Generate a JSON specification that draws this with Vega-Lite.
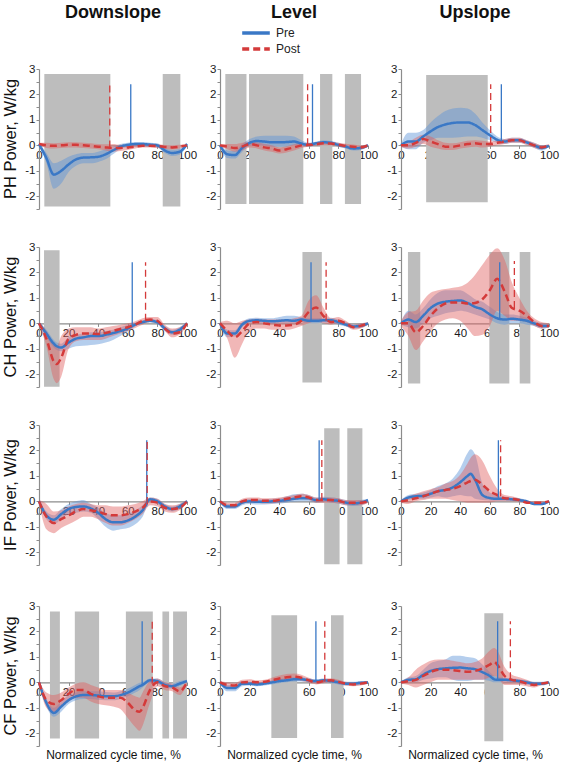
{
"$schema":"https://vega.github.io/schema/vega-lite/v6.json",
"padding":{"left":2,"top":4,"right":2,"bottom":1},
"data":{"values":[
{"r":"PH","c":"D","x":0,"pm":0.05,"pl":0,"ph":0.1,"qm":0.05,"ql":0,"qh":0.1},
{"r":"PH","c":"D","x":5,"pm":-0.5,"pl":-0.7,"ph":-0.3,"qm":0,"ql":-0.1,"qh":0.1},
{"r":"PH","c":"D","x":10,"pm":-1.15,"pl":-1.7,"ph":-0.7,"qm":-0.02,"ql":-0.12,"qh":0.08},
{"r":"PH","c":"D","x":15,"pm":-1.0,"pl":-1.5,"ph":-0.6,"qm":0,"ql":-0.1,"qh":0.1},
{"r":"PH","c":"D","x":20,"pm":-0.75,"pl":-1.05,"ph":-0.45,"qm":0.02,"ql":-0.08,"qh":0.12},
{"r":"PH","c":"D","x":25,"pm":-0.55,"pl":-0.8,"ph":-0.35,"qm":0.02,"ql":-0.08,"qh":0.12},
{"r":"PH","c":"D","x":30,"pm":-0.48,"pl":-0.7,"ph":-0.3,"qm":0,"ql":-0.1,"qh":0.1},
{"r":"PH","c":"D","x":35,"pm":-0.47,"pl":-0.7,"ph":-0.3,"qm":-0.02,"ql":-0.12,"qh":0.08},
{"r":"PH","c":"D","x":40,"pm":-0.45,"pl":-0.65,"ph":-0.25,"qm":-0.05,"ql":-0.15,"qh":0.05},
{"r":"PH","c":"D","x":45,"pm":-0.35,"pl":-0.55,"ph":-0.15,"qm":-0.08,"ql":-0.2,"qh":0.04},
{"r":"PH","c":"D","x":50,"pm":-0.2,"pl":-0.35,"ph":-0.05,"qm":-0.1,"ql":-0.25,"qh":0.05},
{"r":"PH","c":"D","x":55,"pm":-0.05,"pl":-0.15,"ph":0.05,"qm":-0.1,"ql":-0.22,"qh":0.02},
{"r":"PH","c":"D","x":60,"pm":0.02,"pl":-0.06,"ph":0.1,"qm":-0.08,"ql":-0.18,"qh":0.02},
{"r":"PH","c":"D","x":65,"pm":0.05,"pl":-0.03,"ph":0.13,"qm":-0.05,"ql":-0.12,"qh":0.02},
{"r":"PH","c":"D","x":70,"pm":0.05,"pl":-0.03,"ph":0.13,"qm":-0.02,"ql":-0.08,"qh":0.04},
{"r":"PH","c":"D","x":75,"pm":0.03,"pl":-0.05,"ph":0.1,"qm":-0.02,"ql":-0.08,"qh":0.04},
{"r":"PH","c":"D","x":80,"pm":0,"pl":-0.08,"ph":0.08,"qm":-0.03,"ql":-0.1,"qh":0.04},
{"r":"PH","c":"D","x":85,"pm":-0.2,"pl":-0.3,"ph":-0.1,"qm":-0.06,"ql":-0.13,"qh":0.01},
{"r":"PH","c":"D","x":90,"pm":-0.3,"pl":-0.42,"ph":-0.18,"qm":-0.08,"ql":-0.16,"qh":0},
{"r":"PH","c":"D","x":95,"pm":-0.25,"pl":-0.37,"ph":-0.13,"qm":-0.05,"ql":-0.12,"qh":0.02},
{"r":"PH","c":"D","x":100,"pm":0.05,"pl":0,"ph":0.1,"qm":0,"ql":-0.05,"qh":0.05},
{"r":"PH","c":"L","x":0,"pm":0,"pl":-0.05,"ph":0.05,"qm":0,"ql":-0.05,"qh":0.05},
{"r":"PH","c":"L","x":5,"pm":-0.35,"pl":-0.5,"ph":-0.2,"qm":-0.05,"ql":-0.15,"qh":0.05},
{"r":"PH","c":"L","x":10,"pm":-0.38,"pl":-0.52,"ph":-0.22,"qm":-0.1,"ql":-0.25,"qh":0.05},
{"r":"PH","c":"L","x":15,"pm":-0.1,"pl":-0.25,"ph":0.05,"qm":-0.05,"ql":-0.2,"qh":0.1},
{"r":"PH","c":"L","x":20,"pm":0.1,"pl":-0.02,"ph":0.25,"qm":0.05,"ql":-0.08,"qh":0.15},
{"r":"PH","c":"L","x":25,"pm":0.17,"pl":0,"ph":0.35,"qm":0,"ql":-0.12,"qh":0.12},
{"r":"PH","c":"L","x":30,"pm":0.15,"pl":-0.02,"ph":0.38,"qm":-0.08,"ql":-0.2,"qh":0.05},
{"r":"PH","c":"L","x":35,"pm":0.12,"pl":-0.05,"ph":0.38,"qm":-0.12,"ql":-0.25,"qh":0},
{"r":"PH","c":"L","x":40,"pm":0.12,"pl":-0.05,"ph":0.38,"qm":-0.2,"ql":-0.32,"qh":-0.08},
{"r":"PH","c":"L","x":45,"pm":0.13,"pl":-0.05,"ph":0.38,"qm":-0.15,"ql":-0.28,"qh":-0.03},
{"r":"PH","c":"L","x":50,"pm":0.15,"pl":0,"ph":0.35,"qm":-0.08,"ql":-0.2,"qh":0.04},
{"r":"PH","c":"L","x":55,"pm":0.07,"pl":-0.03,"ph":0.2,"qm":0,"ql":-0.1,"qh":0.1},
{"r":"PH","c":"L","x":60,"pm":0.02,"pl":-0.05,"ph":0.1,"qm":0.02,"ql":-0.05,"qh":0.09},
{"r":"PH","c":"L","x":65,"pm":0.08,"pl":0,"ph":0.15,"qm":0.05,"ql":-0.02,"qh":0.12},
{"r":"PH","c":"L","x":70,"pm":0.12,"pl":0.05,"ph":0.2,"qm":0.08,"ql":0,"qh":0.15},
{"r":"PH","c":"L","x":75,"pm":0.1,"pl":0.03,"ph":0.17,"qm":0.07,"ql":0,"qh":0.14},
{"r":"PH","c":"L","x":80,"pm":0.02,"pl":-0.05,"ph":0.1,"qm":0.03,"ql":-0.05,"qh":0.1},
{"r":"PH","c":"L","x":85,"pm":-0.05,"pl":-0.12,"ph":0.02,"qm":-0.02,"ql":-0.1,"qh":0.06},
{"r":"PH","c":"L","x":90,"pm":-0.12,"pl":-0.2,"ph":-0.05,"qm":-0.05,"ql":-0.13,"qh":0.03},
{"r":"PH","c":"L","x":95,"pm":-0.1,"pl":-0.18,"ph":-0.03,"qm":-0.08,"ql":-0.15,"qh":0},
{"r":"PH","c":"L","x":100,"pm":0,"pl":-0.05,"ph":0.05,"qm":0,"ql":-0.05,"qh":0.05},
{"r":"PH","c":"U","x":0,"pm":0,"pl":-0.05,"ph":0.05,"qm":0,"ql":-0.05,"qh":0.05},
{"r":"PH","c":"U","x":5,"pm":0.15,"pl":-0.15,"ph":0.5,"qm":0,"ql":-0.12,"qh":0.12},
{"r":"PH","c":"U","x":10,"pm":0.15,"pl":-0.15,"ph":0.5,"qm":0.1,"ql":-0.05,"qh":0.3},
{"r":"PH","c":"U","x":15,"pm":0.35,"pl":0.1,"ph":0.6,"qm":0.25,"ql":0.05,"qh":0.42},
{"r":"PH","c":"U","x":20,"pm":0.55,"pl":0.2,"ph":0.9,"qm":0.15,"ql":-0.05,"qh":0.35},
{"r":"PH","c":"U","x":25,"pm":0.72,"pl":0.3,"ph":1.15,"qm":0.05,"ql":-0.12,"qh":0.2},
{"r":"PH","c":"U","x":30,"pm":0.82,"pl":0.3,"ph":1.35,"qm":-0.05,"ql":-0.18,"qh":0.1},
{"r":"PH","c":"U","x":35,"pm":0.88,"pl":0.3,"ph":1.45,"qm":-0.05,"ql":-0.18,"qh":0.08},
{"r":"PH","c":"U","x":40,"pm":0.9,"pl":0.32,"ph":1.48,"qm":0,"ql":-0.12,"qh":0.12},
{"r":"PH","c":"U","x":45,"pm":0.9,"pl":0.35,"ph":1.45,"qm":0.05,"ql":-0.08,"qh":0.18},
{"r":"PH","c":"U","x":50,"pm":0.8,"pl":0.35,"ph":1.25,"qm":0.08,"ql":-0.05,"qh":0.2},
{"r":"PH","c":"U","x":55,"pm":0.6,"pl":0.3,"ph":0.9,"qm":0.05,"ql":-0.08,"qh":0.18},
{"r":"PH","c":"U","x":60,"pm":0.4,"pl":0.2,"ph":0.6,"qm":0.05,"ql":-0.05,"qh":0.15},
{"r":"PH","c":"U","x":65,"pm":0.22,"pl":0.1,"ph":0.35,"qm":0.1,"ql":0,"qh":0.2},
{"r":"PH","c":"U","x":70,"pm":0.15,"pl":0.05,"ph":0.25,"qm":0.15,"ql":0.05,"qh":0.25},
{"r":"PH","c":"U","x":75,"pm":0.2,"pl":0.1,"ph":0.3,"qm":0.2,"ql":0.1,"qh":0.3},
{"r":"PH","c":"U","x":80,"pm":0.2,"pl":0.1,"ph":0.3,"qm":0.2,"ql":0.1,"qh":0.3},
{"r":"PH","c":"U","x":85,"pm":0.12,"pl":0.03,"ph":0.2,"qm":0.1,"ql":0,"qh":0.2},
{"r":"PH","c":"U","x":90,"pm":0,"pl":-0.1,"ph":0.1,"qm":0,"ql":-0.1,"qh":0.1},
{"r":"PH","c":"U","x":95,"pm":-0.1,"pl":-0.2,"ph":0,"qm":-0.08,"ql":-0.15,"qh":0},
{"r":"PH","c":"U","x":100,"pm":-0.02,"pl":-0.05,"ph":0.02,"qm":0,"ql":-0.05,"qh":0.05},
{"r":"CH","c":"D","x":0,"pm":0,"pl":-0.05,"ph":0.05,"qm":0,"ql":-0.05,"qh":0.05},
{"r":"CH","c":"D","x":5,"pm":-0.4,"pl":-0.55,"ph":-0.25,"qm":-0.6,"ql":-0.9,"qh":-0.3},
{"r":"CH","c":"D","x":10,"pm":-0.8,"pl":-0.95,"ph":-0.65,"qm":-1.5,"ql":-2.2,"qh":-0.8},
{"r":"CH","c":"D","x":12,"pm":-0.9,"pl":-1.05,"ph":-0.75,"qm":-1.6,"ql":-2.35,"qh":-0.9},
{"r":"CH","c":"D","x":15,"pm":-0.95,"pl":-1.1,"ph":-0.8,"qm":-1.35,"ql":-2.1,"qh":-0.5},
{"r":"CH","c":"D","x":20,"pm":-0.75,"pl":-1.0,"ph":-0.55,"qm":-0.6,"ql":-1.0,"qh":-0.2},
{"r":"CH","c":"D","x":25,"pm":-0.6,"pl":-0.9,"ph":-0.45,"qm":-0.45,"ql":-0.7,"qh":-0.15},
{"r":"CH","c":"D","x":30,"pm":-0.55,"pl":-0.88,"ph":-0.4,"qm":-0.4,"ql":-0.65,"qh":-0.15},
{"r":"CH","c":"D","x":35,"pm":-0.5,"pl":-0.85,"ph":-0.35,"qm":-0.4,"ql":-0.65,"qh":-0.15},
{"r":"CH","c":"D","x":40,"pm":-0.5,"pl":-0.82,"ph":-0.35,"qm":-0.42,"ql":-0.65,"qh":-0.2},
{"r":"CH","c":"D","x":45,"pm":-0.45,"pl":-0.75,"ph":-0.3,"qm":-0.38,"ql":-0.6,"qh":-0.15},
{"r":"CH","c":"D","x":50,"pm":-0.38,"pl":-0.65,"ph":-0.25,"qm":-0.3,"ql":-0.5,"qh":-0.1},
{"r":"CH","c":"D","x":55,"pm":-0.3,"pl":-0.5,"ph":-0.15,"qm":-0.22,"ql":-0.4,"qh":-0.05},
{"r":"CH","c":"D","x":60,"pm":-0.2,"pl":-0.32,"ph":-0.05,"qm":-0.15,"ql":-0.3,"qh":0},
{"r":"CH","c":"D","x":65,"pm":-0.05,"pl":-0.12,"ph":0.02,"qm":-0.05,"ql":-0.18,"qh":0.08},
{"r":"CH","c":"D","x":70,"pm":0.05,"pl":0,"ph":0.12,"qm":0.1,"ql":-0.05,"qh":0.2},
{"r":"CH","c":"D","x":75,"pm":0.1,"pl":0.03,"ph":0.17,"qm":0.15,"ql":0.05,"qh":0.25},
{"r":"CH","c":"D","x":80,"pm":0.05,"pl":-0.03,"ph":0.12,"qm":0.1,"ql":0,"qh":0.25},
{"r":"CH","c":"D","x":85,"pm":-0.2,"pl":-0.3,"ph":-0.1,"qm":-0.2,"ql":-0.3,"qh":-0.05},
{"r":"CH","c":"D","x":90,"pm":-0.35,"pl":-0.45,"ph":-0.25,"qm":-0.4,"ql":-0.55,"qh":-0.2},
{"r":"CH","c":"D","x":95,"pm":-0.25,"pl":-0.35,"ph":-0.15,"qm":-0.35,"ql":-0.45,"qh":-0.15},
{"r":"CH","c":"D","x":100,"pm":0,"pl":-0.05,"ph":0.05,"qm":0,"ql":-0.05,"qh":0.05},
{"r":"CH","c":"L","x":0,"pm":0,"pl":-0.05,"ph":0.05,"qm":0,"ql":-0.05,"qh":0.05},
{"r":"CH","c":"L","x":5,"pm":-0.4,"pl":-0.55,"ph":-0.25,"qm":-0.3,"ql":-0.6,"qh":0.1},
{"r":"CH","c":"L","x":10,"pm":-0.4,"pl":-0.52,"ph":-0.27,"qm":-0.55,"ql":-1.35,"qh":0},
{"r":"CH","c":"L","x":15,"pm":-0.05,"pl":-0.15,"ph":0.05,"qm":-0.3,"ql":-0.8,"qh":0.1},
{"r":"CH","c":"L","x":20,"pm":0.1,"pl":0,"ph":0.2,"qm":0,"ql":-0.3,"qh":0.15},
{"r":"CH","c":"L","x":25,"pm":0.12,"pl":0.02,"ph":0.22,"qm":0.05,"ql":-0.2,"qh":0.18},
{"r":"CH","c":"L","x":30,"pm":0.1,"pl":0,"ph":0.2,"qm":0,"ql":-0.2,"qh":0.15},
{"r":"CH","c":"L","x":35,"pm":0.08,"pl":-0.02,"ph":0.2,"qm":-0.05,"ql":-0.25,"qh":0.15},
{"r":"CH","c":"L","x":40,"pm":0.1,"pl":0,"ph":0.25,"qm":-0.08,"ql":-0.25,"qh":0.15},
{"r":"CH","c":"L","x":45,"pm":0.12,"pl":0,"ph":0.3,"qm":-0.08,"ql":-0.25,"qh":0.15},
{"r":"CH","c":"L","x":50,"pm":0.1,"pl":0,"ph":0.3,"qm":-0.05,"ql":-0.2,"qh":0.2},
{"r":"CH","c":"L","x":55,"pm":0.15,"pl":0.05,"ph":0.25,"qm":0.1,"ql":-0.1,"qh":0.3},
{"r":"CH","c":"L","x":60,"pm":0.1,"pl":0,"ph":0.2,"qm":0.45,"ql":0,"qh":0.9},
{"r":"CH","c":"L","x":65,"pm":0.1,"pl":0,"ph":0.2,"qm":0.62,"ql":0.1,"qh":1.1},
{"r":"CH","c":"L","x":70,"pm":0.12,"pl":0.02,"ph":0.22,"qm":0.28,"ql":0,"qh":0.6},
{"r":"CH","c":"L","x":75,"pm":0.12,"pl":0.02,"ph":0.22,"qm":0.05,"ql":-0.05,"qh":0.2},
{"r":"CH","c":"L","x":80,"pm":0.05,"pl":-0.05,"ph":0.15,"qm":0.1,"ql":0,"qh":0.25},
{"r":"CH","c":"L","x":85,"pm":-0.05,"pl":-0.12,"ph":0.05,"qm":0,"ql":-0.1,"qh":0.1},
{"r":"CH","c":"L","x":90,"pm":-0.12,"pl":-0.2,"ph":-0.04,"qm":-0.15,"ql":-0.25,"qh":-0.05},
{"r":"CH","c":"L","x":95,"pm":-0.1,"pl":-0.18,"ph":-0.02,"qm":-0.1,"ql":-0.2,"qh":0},
{"r":"CH","c":"L","x":100,"pm":0,"pl":-0.05,"ph":0.05,"qm":0,"ql":-0.05,"qh":0.05},
{"r":"CH","c":"U","x":0,"pm":0,"pl":-0.05,"ph":0.05,"qm":0,"ql":-0.1,"qh":0.1},
{"r":"CH","c":"U","x":5,"pm":0.15,"pl":-0.15,"ph":0.5,"qm":0,"ql":-0.5,"qh":0.45},
{"r":"CH","c":"U","x":10,"pm":0.05,"pl":-0.2,"ph":0.35,"qm":-0.35,"ql":-1.05,"qh":0.5},
{"r":"CH","c":"U","x":15,"pm":0.3,"pl":0,"ph":0.6,"qm":-0.1,"ql":-0.7,"qh":0.9},
{"r":"CH","c":"U","x":20,"pm":0.6,"pl":0.2,"ph":0.95,"qm":0.3,"ql":-0.3,"qh":1.2},
{"r":"CH","c":"U","x":25,"pm":0.78,"pl":0.3,"ph":1.2,"qm":0.6,"ql":0,"qh":1.3},
{"r":"CH","c":"U","x":30,"pm":0.85,"pl":0.4,"ph":1.3,"qm":0.78,"ql":0.15,"qh":1.35},
{"r":"CH","c":"U","x":35,"pm":0.88,"pl":0.45,"ph":1.3,"qm":0.82,"ql":0.2,"qh":1.4},
{"r":"CH","c":"U","x":40,"pm":0.9,"pl":0.5,"ph":1.3,"qm":0.82,"ql":0.1,"qh":1.45},
{"r":"CH","c":"U","x":45,"pm":0.8,"pl":0.45,"ph":1.15,"qm":0.78,"ql":-0.2,"qh":1.6},
{"r":"CH","c":"U","x":50,"pm":0.65,"pl":0.35,"ph":0.95,"qm":0.8,"ql":-0.5,"qh":1.9},
{"r":"CH","c":"U","x":55,"pm":0.55,"pl":0.25,"ph":0.85,"qm":0.95,"ql":-0.45,"qh":2.3},
{"r":"CH","c":"U","x":60,"pm":0.35,"pl":0.15,"ph":0.65,"qm":1.3,"ql":-0.1,"qh":2.7},
{"r":"CH","c":"U","x":65,"pm":0.2,"pl":0,"ph":0.45,"qm":1.75,"ql":0.5,"qh":2.95},
{"r":"CH","c":"U","x":70,"pm":0.15,"pl":-0.05,"ph":0.35,"qm":1.25,"ql":0.3,"qh":2.5},
{"r":"CH","c":"U","x":75,"pm":0.18,"pl":0,"ph":0.35,"qm":0.6,"ql":0.1,"qh":1.6},
{"r":"CH","c":"U","x":80,"pm":0.15,"pl":0,"ph":0.3,"qm":0.5,"ql":0.1,"qh":1.0},
{"r":"CH","c":"U","x":85,"pm":0.1,"pl":-0.05,"ph":0.22,"qm":0.3,"ql":0.05,"qh":0.5},
{"r":"CH","c":"U","x":90,"pm":0,"pl":-0.1,"ph":0.1,"qm":0.05,"ql":-0.1,"qh":0.2},
{"r":"CH","c":"U","x":95,"pm":-0.1,"pl":-0.2,"ph":0,"qm":-0.1,"ql":-0.2,"qh":0.05},
{"r":"CH","c":"U","x":100,"pm":-0.1,"pl":-0.15,"ph":-0.05,"qm":-0.1,"ql":-0.15,"qh":0},
{"r":"IF","c":"D","x":0,"pm":0,"pl":-0.05,"ph":0.05,"qm":0,"ql":-0.05,"qh":0.05},
{"r":"IF","c":"D","x":5,"pm":-0.55,"pl":-0.7,"ph":-0.4,"qm":-0.6,"ql":-1.1,"qh":-0.1},
{"r":"IF","c":"D","x":10,"pm":-0.72,"pl":-0.9,"ph":-0.55,"qm":-0.85,"ql":-1.25,"qh":-0.4},
{"r":"IF","c":"D","x":15,"pm":-0.5,"pl":-0.7,"ph":-0.3,"qm":-0.7,"ql":-1.05,"qh":-0.35},
{"r":"IF","c":"D","x":20,"pm":-0.3,"pl":-0.5,"ph":-0.1,"qm":-0.55,"ql":-0.9,"qh":-0.2},
{"r":"IF","c":"D","x":25,"pm":-0.22,"pl":-0.45,"ph":0,"qm":-0.4,"ql":-0.75,"qh":-0.1},
{"r":"IF","c":"D","x":30,"pm":-0.2,"pl":-0.4,"ph":0.05,"qm":-0.3,"ql":-0.6,"qh":-0.05},
{"r":"IF","c":"D","x":35,"pm":-0.28,"pl":-0.45,"ph":-0.1,"qm":-0.35,"ql":-0.6,"qh":-0.1},
{"r":"IF","c":"D","x":40,"pm":-0.45,"pl":-0.7,"ph":-0.25,"qm":-0.4,"ql":-0.7,"qh":-0.15},
{"r":"IF","c":"D","x":45,"pm":-0.7,"pl":-1.0,"ph":-0.45,"qm":-0.5,"ql":-0.85,"qh":-0.15},
{"r":"IF","c":"D","x":50,"pm":-0.82,"pl":-1.15,"ph":-0.55,"qm":-0.55,"ql":-0.95,"qh":-0.2},
{"r":"IF","c":"D","x":55,"pm":-0.82,"pl":-1.1,"ph":-0.55,"qm":-0.55,"ql":-0.95,"qh":-0.2},
{"r":"IF","c":"D","x":60,"pm":-0.75,"pl":-1.05,"ph":-0.5,"qm":-0.5,"ql":-0.85,"qh":-0.15},
{"r":"IF","c":"D","x":65,"pm":-0.6,"pl":-0.9,"ph":-0.35,"qm":-0.4,"ql":-0.7,"qh":-0.1},
{"r":"IF","c":"D","x":70,"pm":-0.35,"pl":-0.6,"ph":-0.15,"qm":-0.25,"ql":-0.5,"qh":0},
{"r":"IF","c":"D","x":75,"pm":0.08,"pl":0,"ph":0.15,"qm":0,"ql":-0.15,"qh":0.15},
{"r":"IF","c":"D","x":80,"pm":0,"pl":-0.1,"ph":0.1,"qm":-0.05,"ql":-0.2,"qh":0.1},
{"r":"IF","c":"D","x":85,"pm":-0.2,"pl":-0.3,"ph":-0.1,"qm":-0.25,"ql":-0.4,"qh":-0.1},
{"r":"IF","c":"D","x":90,"pm":-0.3,"pl":-0.4,"ph":-0.2,"qm":-0.3,"ql":-0.45,"qh":-0.15},
{"r":"IF","c":"D","x":95,"pm":-0.2,"pl":-0.3,"ph":-0.1,"qm":-0.25,"ql":-0.35,"qh":-0.1},
{"r":"IF","c":"D","x":100,"pm":0,"pl":-0.05,"ph":0.05,"qm":0,"ql":-0.05,"qh":0.05},
{"r":"IF","c":"L","x":0,"pm":0,"pl":-0.05,"ph":0.05,"qm":0,"ql":-0.05,"qh":0.05},
{"r":"IF","c":"L","x":5,"pm":-0.2,"pl":-0.3,"ph":-0.1,"qm":-0.15,"ql":-0.25,"qh":-0.05},
{"r":"IF","c":"L","x":10,"pm":-0.2,"pl":-0.3,"ph":-0.1,"qm":-0.15,"ql":-0.25,"qh":-0.05},
{"r":"IF","c":"L","x":15,"pm":-0.05,"pl":-0.15,"ph":0.05,"qm":0,"ql":-0.1,"qh":0.1},
{"r":"IF","c":"L","x":20,"pm":0,"pl":-0.1,"ph":0.1,"qm":0.05,"ql":-0.05,"qh":0.15},
{"r":"IF","c":"L","x":25,"pm":-0.02,"pl":-0.12,"ph":0.08,"qm":0.05,"ql":-0.05,"qh":0.15},
{"r":"IF","c":"L","x":30,"pm":-0.02,"pl":-0.12,"ph":0.08,"qm":0.02,"ql":-0.08,"qh":0.12},
{"r":"IF","c":"L","x":35,"pm":0,"pl":-0.1,"ph":0.1,"qm":0.02,"ql":-0.08,"qh":0.12},
{"r":"IF","c":"L","x":40,"pm":0.02,"pl":-0.08,"ph":0.12,"qm":0.05,"ql":-0.05,"qh":0.15},
{"r":"IF","c":"L","x":45,"pm":0.05,"pl":-0.05,"ph":0.2,"qm":0.1,"ql":0,"qh":0.2},
{"r":"IF","c":"L","x":50,"pm":0.1,"pl":-0.02,"ph":0.28,"qm":0.15,"ql":0.05,"qh":0.25},
{"r":"IF","c":"L","x":55,"pm":0.12,"pl":0,"ph":0.3,"qm":0.2,"ql":0.1,"qh":0.3},
{"r":"IF","c":"L","x":60,"pm":0.12,"pl":0,"ph":0.25,"qm":0.15,"ql":0.05,"qh":0.25},
{"r":"IF","c":"L","x":65,"pm":0.05,"pl":-0.05,"ph":0.15,"qm":0.05,"ql":-0.05,"qh":0.15},
{"r":"IF","c":"L","x":70,"pm":0.08,"pl":-0.02,"ph":0.18,"qm":0.05,"ql":-0.05,"qh":0.15},
{"r":"IF","c":"L","x":75,"pm":0.05,"pl":-0.05,"ph":0.15,"qm":0.05,"ql":-0.05,"qh":0.15},
{"r":"IF","c":"L","x":80,"pm":0.02,"pl":-0.08,"ph":0.12,"qm":0.02,"ql":-0.08,"qh":0.12},
{"r":"IF","c":"L","x":85,"pm":-0.05,"pl":-0.15,"ph":0.05,"qm":-0.05,"ql":-0.15,"qh":0.05},
{"r":"IF","c":"L","x":90,"pm":-0.08,"pl":-0.18,"ph":0.02,"qm":-0.05,"ql":-0.15,"qh":0.05},
{"r":"IF","c":"L","x":95,"pm":-0.05,"pl":-0.15,"ph":0.05,"qm":-0.05,"ql":-0.15,"qh":0.05},
{"r":"IF","c":"L","x":100,"pm":0.05,"pl":-0.05,"ph":0.1,"qm":0,"ql":-0.05,"qh":0.05},
{"r":"IF","c":"U","x":0,"pm":0,"pl":-0.05,"ph":0.05,"qm":0,"ql":-0.05,"qh":0.05},
{"r":"IF","c":"U","x":5,"pm":0.15,"pl":0.05,"ph":0.25,"qm":0.05,"ql":-0.1,"qh":0.2},
{"r":"IF","c":"U","x":10,"pm":0.2,"pl":0.1,"ph":0.3,"qm":0.12,"ql":0,"qh":0.3},
{"r":"IF","c":"U","x":15,"pm":0.22,"pl":0.1,"ph":0.35,"qm":0.2,"ql":0.05,"qh":0.4},
{"r":"IF","c":"U","x":20,"pm":0.3,"pl":0.15,"ph":0.45,"qm":0.3,"ql":0.1,"qh":0.48},
{"r":"IF","c":"U","x":25,"pm":0.4,"pl":0.2,"ph":0.6,"qm":0.4,"ql":0.1,"qh":0.55},
{"r":"IF","c":"U","x":30,"pm":0.45,"pl":0.15,"ph":0.7,"qm":0.45,"ql":0.1,"qh":0.7},
{"r":"IF","c":"U","x":35,"pm":0.55,"pl":0.2,"ph":0.9,"qm":0.5,"ql":0.05,"qh":0.8},
{"r":"IF","c":"U","x":40,"pm":0.75,"pl":0.25,"ph":1.3,"qm":0.6,"ql":0,"qh":1.05},
{"r":"IF","c":"U","x":45,"pm":1.0,"pl":0.2,"ph":1.9,"qm":0.75,"ql":-0.05,"qh":1.5},
{"r":"IF","c":"U","x":47,"pm":1.08,"pl":0.2,"ph":2.05,"qm":0.8,"ql":-0.05,"qh":1.7},
{"r":"IF","c":"U","x":50,"pm":0.85,"pl":0.1,"ph":1.85,"qm":0.85,"ql":-0.05,"qh":1.85},
{"r":"IF","c":"U","x":55,"pm":0.25,"pl":0.05,"ph":0.7,"qm":0.65,"ql":-0.05,"qh":1.6},
{"r":"IF","c":"U","x":60,"pm":0.13,"pl":0.03,"ph":0.35,"qm":0.4,"ql":-0.05,"qh":1.0},
{"r":"IF","c":"U","x":65,"pm":0.1,"pl":0.02,"ph":0.22,"qm":0.25,"ql":0,"qh":0.5},
{"r":"IF","c":"U","x":70,"pm":0.1,"pl":0.02,"ph":0.18,"qm":0.12,"ql":0,"qh":0.25},
{"r":"IF","c":"U","x":75,"pm":0.08,"pl":0.02,"ph":0.15,"qm":0.1,"ql":0,"qh":0.2},
{"r":"IF","c":"U","x":80,"pm":0.05,"pl":0,"ph":0.12,"qm":0.05,"ql":-0.02,"qh":0.12},
{"r":"IF","c":"U","x":85,"pm":0,"pl":-0.05,"ph":0.05,"qm":-0.05,"ql":-0.1,"qh":0.02},
{"r":"IF","c":"U","x":90,"pm":-0.1,"pl":-0.15,"ph":-0.05,"qm":-0.05,"ql":-0.1,"qh":0},
{"r":"IF","c":"U","x":95,"pm":-0.1,"pl":-0.15,"ph":-0.05,"qm":-0.05,"ql":-0.1,"qh":0},
{"r":"IF","c":"U","x":100,"pm":0,"pl":-0.05,"ph":0.05,"qm":0,"ql":-0.05,"qh":0.05},
{"r":"CF","c":"D","x":0,"pm":0,"pl":-0.05,"ph":0.05,"qm":0,"ql":-0.05,"qh":0.05},
{"r":"CF","c":"D","x":5,"pm":-0.8,"pl":-0.95,"ph":-0.65,"qm":-0.7,"ql":-1.0,"qh":-0.4},
{"r":"CF","c":"D","x":10,"pm":-1.2,"pl":-1.35,"ph":-1.0,"qm":-0.85,"ql":-1.2,"qh":-0.5},
{"r":"CF","c":"D","x":15,"pm":-0.95,"pl":-1.15,"ph":-0.75,"qm":-0.7,"ql":-1.0,"qh":-0.4},
{"r":"CF","c":"D","x":20,"pm":-0.7,"pl":-0.85,"ph":-0.5,"qm":-0.45,"ql":-0.75,"qh":-0.2},
{"r":"CF","c":"D","x":25,"pm":-0.55,"pl":-0.7,"ph":-0.4,"qm":-0.3,"ql":-0.6,"qh":-0.05},
{"r":"CF","c":"D","x":30,"pm":-0.5,"pl":-0.65,"ph":-0.35,"qm":-0.3,"ql":-0.6,"qh":0},
{"r":"CF","c":"D","x":35,"pm":-0.5,"pl":-0.65,"ph":-0.35,"qm":-0.45,"ql":-0.75,"qh":-0.1},
{"r":"CF","c":"D","x":40,"pm":-0.52,"pl":-0.68,"ph":-0.35,"qm":-0.55,"ql":-0.85,"qh":-0.2},
{"r":"CF","c":"D","x":45,"pm":-0.55,"pl":-0.7,"ph":-0.38,"qm":-0.6,"ql":-0.9,"qh":-0.3},
{"r":"CF","c":"D","x":50,"pm":-0.55,"pl":-0.7,"ph":-0.4,"qm":-0.6,"ql":-0.95,"qh":-0.3},
{"r":"CF","c":"D","x":55,"pm":-0.5,"pl":-0.65,"ph":-0.35,"qm":-0.6,"ql":-1.05,"qh":-0.3},
{"r":"CF","c":"D","x":60,"pm":-0.4,"pl":-0.55,"ph":-0.25,"qm":-0.8,"ql":-1.4,"qh":-0.4},
{"r":"CF","c":"D","x":65,"pm":-0.25,"pl":-0.4,"ph":-0.1,"qm":-1.1,"ql":-1.75,"qh":-0.55},
{"r":"CF","c":"D","x":68,"pm":-0.15,"pl":-0.3,"ph":-0.02,"qm":-1.15,"ql":-1.9,"qh":-0.6},
{"r":"CF","c":"D","x":70,"pm":-0.1,"pl":-0.2,"ph":0,"qm":-1.0,"ql":-1.7,"qh":-0.4},
{"r":"CF","c":"D","x":75,"pm":0.08,"pl":-0.02,"ph":0.15,"qm":-0.3,"ql":-0.8,"qh":0.05},
{"r":"CF","c":"D","x":80,"pm":0.05,"pl":-0.05,"ph":0.15,"qm":0,"ql":-0.15,"qh":0.15},
{"r":"CF","c":"D","x":85,"pm":-0.1,"pl":-0.2,"ph":0,"qm":-0.15,"ql":-0.3,"qh":0},
{"r":"CF","c":"D","x":90,"pm":-0.15,"pl":-0.25,"ph":-0.05,"qm":-0.2,"ql":-0.35,"qh":-0.05},
{"r":"CF","c":"D","x":95,"pm":-0.05,"pl":-0.15,"ph":0.05,"qm":-0.35,"ql":-0.5,"qh":-0.2},
{"r":"CF","c":"D","x":100,"pm":0.05,"pl":0,"ph":0.1,"qm":0,"ql":-0.05,"qh":0.05},
{"r":"CF","c":"L","x":0,"pm":0,"pl":-0.05,"ph":0.05,"qm":0,"ql":-0.05,"qh":0.05},
{"r":"CF","c":"L","x":5,"pm":-0.22,"pl":-0.35,"ph":-0.1,"qm":-0.1,"ql":-0.2,"qh":0},
{"r":"CF","c":"L","x":10,"pm":-0.22,"pl":-0.35,"ph":-0.1,"qm":-0.12,"ql":-0.22,"qh":-0.02},
{"r":"CF","c":"L","x":15,"pm":-0.05,"pl":-0.15,"ph":0.05,"qm":0,"ql":-0.1,"qh":0.1},
{"r":"CF","c":"L","x":20,"pm":-0.05,"pl":-0.12,"ph":0.02,"qm":0.02,"ql":-0.08,"qh":0.12},
{"r":"CF","c":"L","x":25,"pm":-0.08,"pl":-0.15,"ph":0,"qm":0,"ql":-0.08,"qh":0.08},
{"r":"CF","c":"L","x":30,"pm":-0.05,"pl":-0.12,"ph":0.02,"qm":0.02,"ql":-0.05,"qh":0.1},
{"r":"CF","c":"L","x":35,"pm":0,"pl":-0.08,"ph":0.08,"qm":0.08,"ql":0,"qh":0.18},
{"r":"CF","c":"L","x":40,"pm":0.05,"pl":-0.03,"ph":0.13,"qm":0.15,"ql":0.05,"qh":0.27},
{"r":"CF","c":"L","x":45,"pm":0.08,"pl":0,"ph":0.17,"qm":0.2,"ql":0.08,"qh":0.33},
{"r":"CF","c":"L","x":50,"pm":0.12,"pl":0.03,"ph":0.2,"qm":0.22,"ql":0.1,"qh":0.35},
{"r":"CF","c":"L","x":55,"pm":0.12,"pl":0.03,"ph":0.2,"qm":0.18,"ql":0.05,"qh":0.3},
{"r":"CF","c":"L","x":60,"pm":0.08,"pl":0,"ph":0.16,"qm":0.08,"ql":-0.02,"qh":0.18},
{"r":"CF","c":"L","x":65,"pm":0.05,"pl":-0.03,"ph":0.12,"qm":0,"ql":-0.08,"qh":0.08},
{"r":"CF","c":"L","x":70,"pm":0.08,"pl":0,"ph":0.15,"qm":0.05,"ql":-0.03,"qh":0.13},
{"r":"CF","c":"L","x":75,"pm":0.05,"pl":-0.03,"ph":0.12,"qm":0.08,"ql":0,"qh":0.16},
{"r":"CF","c":"L","x":80,"pm":0,"pl":-0.08,"ph":0.08,"qm":0.02,"ql":-0.06,"qh":0.1},
{"r":"CF","c":"L","x":85,"pm":-0.05,"pl":-0.12,"ph":0.02,"qm":-0.05,"ql":-0.12,"qh":0.02},
{"r":"CF","c":"L","x":90,"pm":-0.05,"pl":-0.12,"ph":0.02,"qm":-0.08,"ql":-0.15,"qh":0},
{"r":"CF","c":"L","x":95,"pm":-0.02,"pl":-0.1,"ph":0.05,"qm":-0.05,"ql":-0.12,"qh":0.02},
{"r":"CF","c":"L","x":100,"pm":0,"pl":-0.05,"ph":0.05,"qm":0,"ql":-0.05,"qh":0.05},
{"r":"CF","c":"U","x":0,"pm":0,"pl":-0.05,"ph":0.05,"qm":0,"ql":-0.05,"qh":0.05},
{"r":"CF","c":"U","x":5,"pm":0.1,"pl":0,"ph":0.2,"qm":0.05,"ql":-0.1,"qh":0.2},
{"r":"CF","c":"U","x":10,"pm":0.12,"pl":0,"ph":0.25,"qm":0.1,"ql":-0.2,"qh":0.5},
{"r":"CF","c":"U","x":15,"pm":0.3,"pl":0.1,"ph":0.5,"qm":0.25,"ql":-0.1,"qh":0.7},
{"r":"CF","c":"U","x":20,"pm":0.45,"pl":0.15,"ph":0.75,"qm":0.4,"ql":0,"qh":0.85},
{"r":"CF","c":"U","x":25,"pm":0.52,"pl":0.2,"ph":0.85,"qm":0.5,"ql":0.1,"qh":0.9},
{"r":"CF","c":"U","x":30,"pm":0.55,"pl":0.2,"ph":0.9,"qm":0.5,"ql":0.1,"qh":0.9},
{"r":"CF","c":"U","x":35,"pm":0.57,"pl":0.1,"ph":1.05,"qm":0.48,"ql":0.1,"qh":0.85},
{"r":"CF","c":"U","x":40,"pm":0.58,"pl":0.05,"ph":1.05,"qm":0.45,"ql":0.1,"qh":0.8},
{"r":"CF","c":"U","x":45,"pm":0.55,"pl":0.05,"ph":1.0,"qm":0.42,"ql":0.1,"qh":0.75},
{"r":"CF","c":"U","x":50,"pm":0.52,"pl":0.1,"ph":0.95,"qm":0.45,"ql":0.1,"qh":0.8},
{"r":"CF","c":"U","x":55,"pm":0.4,"pl":0.1,"ph":0.7,"qm":0.55,"ql":0.1,"qh":0.95},
{"r":"CF","c":"U","x":60,"pm":0.25,"pl":0.05,"ph":0.4,"qm":0.7,"ql":0.2,"qh":1.25},
{"r":"CF","c":"U","x":63,"pm":0.12,"pl":0,"ph":0.25,"qm":0.8,"ql":0.25,"qh":1.35},
{"r":"CF","c":"U","x":65,"pm":0.1,"pl":0,"ph":0.2,"qm":0.7,"ql":0.2,"qh":1.25},
{"r":"CF","c":"U","x":70,"pm":0.1,"pl":0,"ph":0.18,"qm":0.25,"ql":-0.1,"qh":0.6},
{"r":"CF","c":"U","x":75,"pm":0.08,"pl":0,"ph":0.15,"qm":0.1,"ql":-0.1,"qh":0.3},
{"r":"CF","c":"U","x":80,"pm":0.05,"pl":-0.03,"ph":0.12,"qm":0.05,"ql":-0.1,"qh":0.2},
{"r":"CF","c":"U","x":85,"pm":0,"pl":-0.08,"ph":0.08,"qm":-0.05,"ql":-0.15,"qh":0.1},
{"r":"CF","c":"U","x":90,"pm":-0.05,"pl":-0.12,"ph":0.02,"qm":-0.1,"ql":-0.2,"qh":0},
{"r":"CF","c":"U","x":95,"pm":-0.05,"pl":-0.12,"ph":0.02,"qm":-0.05,"ql":-0.1,"qh":0},
{"r":"CF","c":"U","x":100,"pm":0,"pl":-0.05,"ph":0.05,"qm":0,"ql":-0.05,"qh":0.05},
{"r":"PH","c":"D","x1":3.6,"x2":48.2,"y1":2.8,"y2":-2.4},
{"r":"PH","c":"D","x1":83.6,"x2":95.5,"y1":2.8,"y2":-2.4},
{"r":"PH","c":"L","x1":3.6,"x2":17.9,"y1":2.8,"y2":-2.3},
{"r":"PH","c":"L","x1":19.6,"x2":56.3,"y1":2.8,"y2":-2.3},
{"r":"PH","c":"L","x1":67.6,"x2":75.9,"y1":2.8,"y2":-2.3},
{"r":"PH","c":"L","x1":84.4,"x2":95.3,"y1":2.8,"y2":-2.3},
{"r":"PH","c":"U","x1":17,"x2":58.6,"y1":2.76,"y2":-2.23},
{"r":"CH","c":"D","x1":3.4,"x2":13.9,"y1":2.87,"y2":-2.49},
{"r":"CH","c":"L","x1":55.7,"x2":68.8,"y1":2.8,"y2":-2.32},
{"r":"CH","c":"U","x1":4.7,"x2":13,"y1":2.8,"y2":-2.36},
{"r":"CH","c":"U","x1":59.7,"x2":73.2,"y1":2.8,"y2":-2.36},
{"r":"CH","c":"U","x1":80.2,"x2":87.4,"y1":2.8,"y2":-2.36},
{"r":"IF","c":"L","x1":70.4,"x2":80.8,"y1":2.87,"y2":-2.47},
{"r":"IF","c":"L","x1":86,"x2":96.2,"y1":2.87,"y2":-2.47},
{"r":"CF","c":"D","x1":7.4,"x2":14.1,"y1":2.78,"y2":-2.21},
{"r":"CF","c":"D","x1":24.2,"x2":40.6,"y1":2.78,"y2":-2.21},
{"r":"CF","c":"D","x1":58.7,"x2":76.9,"y1":2.78,"y2":-2.21},
{"r":"CF","c":"D","x1":83.4,"x2":87.9,"y1":2.78,"y2":-2.21},
{"r":"CF","c":"D","x1":90.6,"x2":100,"y1":2.78,"y2":-2.21},
{"r":"CF","c":"L","x1":34.7,"x2":52.1,"y1":2.64,"y2":-2.19},
{"r":"CF","c":"L","x1":75,"x2":83.5,"y1":2.64,"y2":-2.19},
{"r":"CF","c":"U","x1":56.3,"x2":69.1,"y1":2.72,"y2":-2.31},
{"r":"PH","c":"D","s":"Pre","vx":62,"v0":0.05,"v1":2.4},
{"r":"PH","c":"D","s":"Post","vx":47.8,"v0":-0.08,"v1":2.4},
{"r":"PH","c":"L","s":"Pre","vx":62.5,"v0":0.05,"v1":2.4},
{"r":"PH","c":"L","s":"Post","vx":59.2,"v0":0,"v1":2.4},
{"r":"PH","c":"U","s":"Pre","vx":67.8,"v0":0.15,"v1":2.4},
{"r":"PH","c":"U","s":"Post","vx":60.6,"v0":0.05,"v1":2.4},
{"r":"CH","c":"D","s":"Pre","vx":63,"v0":-0.08,"v1":2.4},
{"r":"CH","c":"D","s":"Post","vx":72,"v0":0.1,"v1":2.4},
{"r":"CH","c":"L","s":"Pre","vx":61.5,"v0":0.1,"v1":2.4},
{"r":"CH","c":"L","s":"Post","vx":71.7,"v0":0.1,"v1":2.4},
{"r":"CH","c":"U","s":"Pre","vx":66.7,"v0":0.16,"v1":2.4},
{"r":"CH","c":"U","s":"Post","vx":76.6,"v0":0.6,"v1":2.45},
{"r":"IF","c":"D","s":"Pre","vx":72.8,"v0":-0.2,"v1":2.4},
{"r":"IF","c":"D","s":"Post","vx":73.1,"v0":-0.1,"v1":2.4},
{"r":"IF","c":"L","s":"Pre","vx":67,"v0":0.05,"v1":2.4},
{"r":"IF","c":"L","s":"Post","vx":68.8,"v0":0.05,"v1":2.4},
{"r":"IF","c":"U","s":"Pre","vx":65.8,"v0":0.12,"v1":2.4},
{"r":"IF","c":"U","s":"Post","vx":67.3,"v0":0.2,"v1":2.4},
{"r":"CF","c":"D","s":"Pre","vx":69.7,"v0":-0.1,"v1":2.4},
{"r":"CF","c":"D","s":"Post","vx":76.5,"v0":-0.05,"v1":2.4},
{"r":"CF","c":"L","s":"Pre","vx":64.8,"v0":0.05,"v1":2.4},
{"r":"CF","c":"L","s":"Post","vx":70.8,"v0":0.02,"v1":2.4},
{"r":"CF","c":"U","s":"Pre","vx":65.3,"v0":0.1,"v1":2.4},
{"r":"CF","c":"U","s":"Post","vx":73.9,"v0":0.12,"v1":2.4}
]},
"spacing":29,
"vconcat":[
{
"transform":[{"filter":"datum.r != 'CF'"}],
"facet":{
 "row":{"field":"r","type":"nominal","sort":["PH","CH","IF"],"title":null,"header":{"labelExpr":"datum.value + ' Power, W/kg'","labelFontSize":16.5,"labelAngle":-90,"labelOrient":"left","labelPadding":12,"labelColor":"#111"}},
 "column":{"field":"c","type":"nominal","sort":["D","L","U"],"title":null,"header":{"labelExpr":"datum.value == 'D' ? 'Downslope' : datum.value == 'L' ? 'Level' : 'Upslope'","labelFontSize":18,"labelFontWeight":"bold","labelPadding":47,"labelColor":"#111"}}
},
"spacing":{"row":38,"column":33},
"bounds":"flush",
"resolve":{"axis":{"x":"independent","y":"independent"}},
"spec":{"width":148,"height":140,"layer":[
 {"transform":[{"filter":"isValid(datum.x1)"}],"mark":{"type":"rect","color":"#bdbdbd"},"encoding":{"x":{"field":"x1","type":"quantitative","scale":{"domain":[0,100],"nice":false},"title":null},"x2":{"field":"x2"},"y":{"field":"y1","type":"quantitative","scale":{"domain":[-2.5,3],"nice":false},"title":null},"y2":{"field":"y2"}}},
 {"transform":[{"filter":"isValid(datum.x)"}],"mark":{"type":"area","color":"#5b93d6","opacity":0.45,"interpolate":"monotone"},"encoding":{"x":{"field":"x","type":"quantitative","title":null},"y":{"field":"pl","type":"quantitative","title":null},"y2":{"field":"ph"}}},
 {"transform":[{"filter":"isValid(datum.x)"}],"mark":{"type":"area","color":"#e06060","opacity":0.45,"interpolate":"monotone"},"encoding":{"x":{"field":"x","type":"quantitative","title":null},"y":{"field":"ql","type":"quantitative","title":null},"y2":{"field":"qh"}}},
 {"transform":[{"filter":"isValid(datum.x)"}],"mark":{"type":"line","strokeWidth":2.5,"interpolate":"monotone"},"encoding":{"x":{"field":"x","type":"quantitative","title":null},"y":{"field":"pm","type":"quantitative","title":null},"stroke":{"datum":"Pre","type":"nominal","scale":{"domain":["Pre","Post"],"range":["#3a78c6","#d43a3a"]},"legend":{"title":null}},"strokeDash":{"datum":"Pre","type":"nominal","scale":{"domain":["Pre","Post"],"range":[[1,0],[7,4]]},"legend":{"title":null}}}},
 {"transform":[{"filter":"isValid(datum.x)"}],"mark":{"type":"line","strokeWidth":2.5,"interpolate":"monotone"},"encoding":{"x":{"field":"x","type":"quantitative","title":null},"y":{"field":"qm","type":"quantitative","title":null},"stroke":{"datum":"Post","type":"nominal","legend":{"title":null}},"strokeDash":{"datum":"Post","type":"nominal","legend":{"title":null}}}},
 {"transform":[{"filter":"isValid(datum.vx)"}],"mark":{"type":"rule","strokeWidth":1.3},"encoding":{"x":{"field":"vx","type":"quantitative","title":null},"y":{"field":"v0","type":"quantitative","title":null},"y2":{"field":"v1"},"stroke":{"field":"s","type":"nominal","legend":{"title":null}},"strokeDash":{"field":"s","type":"nominal","legend":{"title":null}}}}
]}
},
{
"transform":[{"filter":"datum.r == 'CF'"}],
"facet":{
 "row":{"field":"r","type":"nominal","title":null,"header":{"labelExpr":"datum.value + ' Power, W/kg'","labelFontSize":16.5,"labelAngle":-90,"labelOrient":"left","labelPadding":12,"labelColor":"#111"}},
 "column":{"field":"c","type":"nominal","sort":["D","L","U"],"title":null,"header":{"labels":false}}
},
"spacing":{"row":38,"column":33},
"bounds":"flush",
"resolve":{"axis":{"x":"independent","y":"independent"}},
"spec":{"width":148,"height":140,"layer":[
 {"transform":[{"filter":"isValid(datum.x1)"}],"mark":{"type":"rect","color":"#bdbdbd"},"encoding":{"x":{"field":"x1","type":"quantitative","scale":{"domain":[0,100],"nice":false},"title":"Normalized cycle time, %"},"x2":{"field":"x2"},"y":{"field":"y1","type":"quantitative","scale":{"domain":[-2.5,3],"nice":false},"title":null},"y2":{"field":"y2"}}},
 {"transform":[{"filter":"isValid(datum.x)"}],"mark":{"type":"area","color":"#5b93d6","opacity":0.45,"interpolate":"monotone"},"encoding":{"x":{"field":"x","type":"quantitative","title":"Normalized cycle time, %"},"y":{"field":"pl","type":"quantitative","title":null},"y2":{"field":"ph"}}},
 {"transform":[{"filter":"isValid(datum.x)"}],"mark":{"type":"area","color":"#e06060","opacity":0.45,"interpolate":"monotone"},"encoding":{"x":{"field":"x","type":"quantitative","title":"Normalized cycle time, %"},"y":{"field":"ql","type":"quantitative","title":null},"y2":{"field":"qh"}}},
 {"transform":[{"filter":"isValid(datum.x)"}],"mark":{"type":"line","strokeWidth":2.5,"interpolate":"monotone"},"encoding":{"x":{"field":"x","type":"quantitative","title":"Normalized cycle time, %"},"y":{"field":"pm","type":"quantitative","title":null},"stroke":{"datum":"Pre","type":"nominal","legend":{"title":null}},"strokeDash":{"datum":"Pre","type":"nominal","legend":{"title":null}}}},
 {"transform":[{"filter":"isValid(datum.x)"}],"mark":{"type":"line","strokeWidth":2.5,"interpolate":"monotone"},"encoding":{"x":{"field":"x","type":"quantitative","title":"Normalized cycle time, %"},"y":{"field":"qm","type":"quantitative","title":null},"stroke":{"datum":"Post","type":"nominal","legend":{"title":null}},"strokeDash":{"datum":"Post","type":"nominal","legend":{"title":null}}}},
 {"transform":[{"filter":"isValid(datum.vx)"}],"mark":{"type":"rule","strokeWidth":1.3},"encoding":{"x":{"field":"vx","type":"quantitative","title":"Normalized cycle time, %"},"y":{"field":"v0","type":"quantitative","title":null},"y2":{"field":"v1"},"stroke":{"field":"s","type":"nominal","legend":{"title":null}},"strokeDash":{"field":"s","type":"nominal","legend":{"title":null}}}}
]}
}
],
"config":{
 "font":"Liberation Sans",
 "view":{"stroke":null},
 "axis":{"grid":false,"domainColor":"#8c8c8c","tickColor":"#8c8c8c","labelColor":"#1a1a1a","labelFontSize":11.5,"labelFont":"Liberation Sans","tickSize":3,"domainWidth":1.2},
 "axisY":{"tickCount":11,"labelExpr":"datum.value % 1 == 0 ? toString(datum.value) : ''","labelPadding":1,"labelOverlap":false},
 "axisX":{"tickCount":5,"offset":-63.6,"labelPadding":1,"labelFlush":false,"labelOverlap":false,"titleFontSize":12,"titleFontWeight":"normal","titlePadding":52,"titleColor":"#111","titleFont":"Liberation Sans"},
 "header":{"labelFont":"Liberation Sans"},
 "legend":{"orient":"none","legendX":209,"legendY":-44,"symbolType":"M-2.3,0H2.3","symbolSize":144,"symbolStrokeWidth":3.5,"labelFontSize":12,"labelFont":"Liberation Sans","labelColor":"#222","rowPadding":1,"labelOffset":12}
}
}
